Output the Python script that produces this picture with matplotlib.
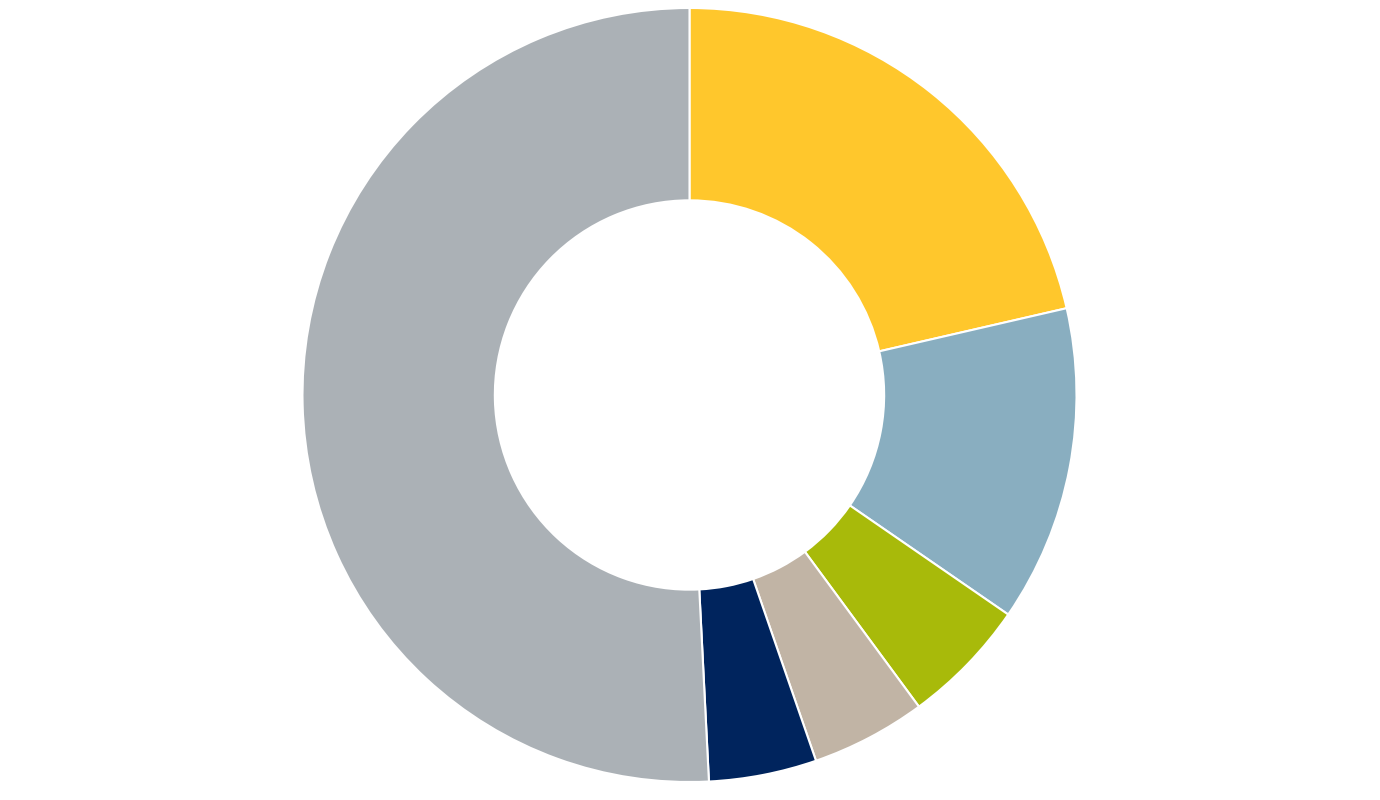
import matplotlib
matplotlib.use("Agg")
import matplotlib.pyplot as plt

# 数据（顺时针，从正上方开始）
labels = ["A", "B", "C", "D", "E", "F"]
shares = [21.4, 13.2, 5.3, 4.8, 4.5, 50.8]
colors = ["#FFC72C", "#89AEC0", "#A8BA0A", "#C1B4A5", "#00245D", "#ABB1B6"]

fig = plt.figure(figsize=(13.8, 8), dpi=100)
ax = fig.add_axes([(689.5 - 387) / 1380, 18 / 800, 774 / 1380, 774 / 800])

ax.pie(shares, colors=colors, startangle=90, counterclock=False,
       radius=1.0,
       wedgeprops=dict(width=0.497, edgecolor="white", linewidth=1.5))
ax.set_xlim(-1, 1)
ax.set_ylim(-1, 1)
ax.set_aspect("equal")
ax.axis("off")

fig.savefig("out.png", dpi=100)
